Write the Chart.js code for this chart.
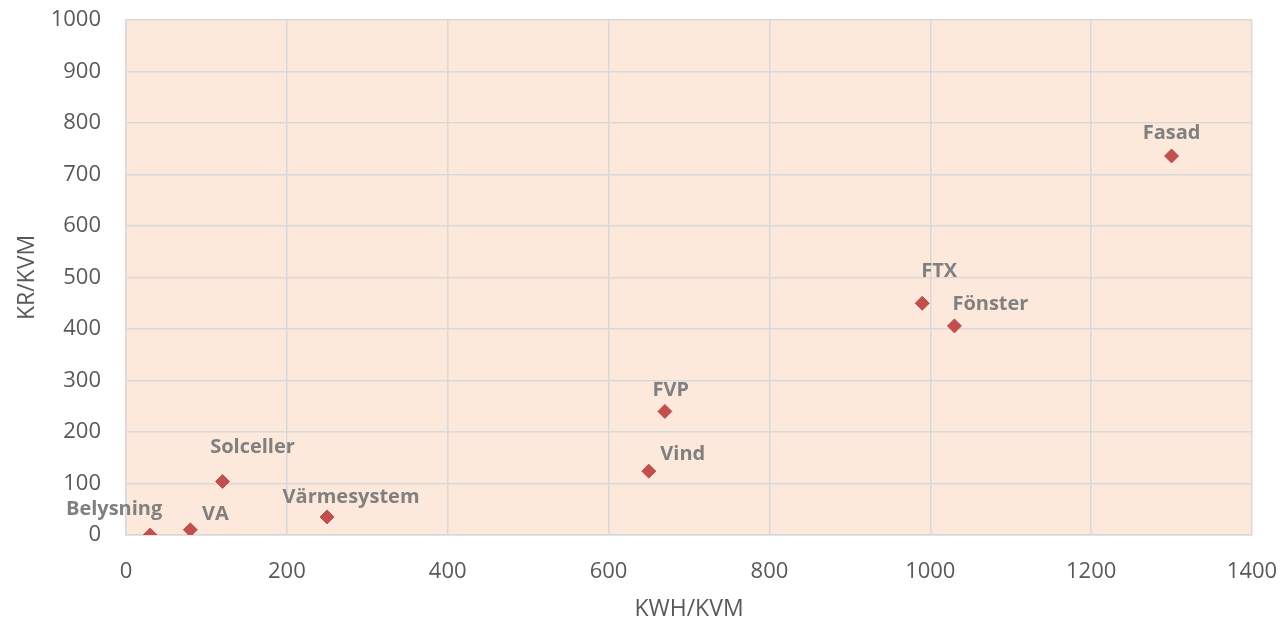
<!DOCTYPE html>
<html>
<head>
<meta charset="utf-8">
<script src="https://cdn.jsdelivr.net/npm/chart.js@4"></script>
<style>
  html, body { margin: 0; padding: 0; background: #ffffff; }
  #wrap { width: 1284px; height: 623px; }
</style>
</head>
<body>
<div id="wrap"><canvas id="scatter"></canvas></div>
<script>
// ── DATA ──────────────────────────────────────────────────
const measures = ['Belysning', 'VA', 'Solceller', 'Värmesystem', 'Vind', 'FVP', 'FTX', 'Fönster', 'Fasad'];
const kwhPerKvm = [30, 80, 120, 250, 650, 670, 990, 1030, 1300];
const krPerKvm  = [0, 10, 104, 35, 124, 240, 450, 406, 736];
const xTicks = [0, 200, 400, 600, 800, 1000, 1200, 1400];
const yTicks = [0, 100, 200, 300, 400, 500, 600, 700, 800, 900, 1000];

// label offsets from each marker (px)
const labelOffsets = [[-36, -26], [25, -16], [30, -34], [24, -20], [34, -17], [6, -21], [17, -32], [36, -22], [0, -23]];

const FONT = "'Open Sans', 'Liberation Sans', sans-serif";

// peach plot background
const plotBg = {
  id: 'plotBg',
  beforeDraw(chart) {
    const { ctx, chartArea: a } = chart;
    ctx.save();
    ctx.fillStyle = '#fde9dc';
    ctx.fillRect(a.left, a.top, a.right - a.left, a.bottom - a.top);
    ctx.restore();
  }
};

// name labels next to the markers
const pointLabels = {
  id: 'pointLabels',
  afterDatasetsDraw(chart) {
    const { ctx } = chart;
    const meta = chart.getDatasetMeta(0);
    ctx.save();
    ctx.font = "bold 20px " + FONT;
    ctx.fillStyle = '#808080';
    ctx.textAlign = 'center';
    ctx.textBaseline = 'middle';
    meta.data.forEach((pt, i) => {
      const [dx, dy] = labelOffsets[i];
      ctx.fillText(measures[i], pt.x + dx, pt.y + dy);
    });
    ctx.restore();
  }
};

new Chart(document.getElementById('scatter'), {
  type: 'scatter',
  data: {
    datasets: [{
      label: 'Åtgärder',
      data: kwhPerKvm.map((x, i) => ({ x, y: krPerKvm[i] })),
      pointStyle: 'rectRot',
      pointRadius: 7,
      pointHoverRadius: 7,
      backgroundColor: '#c0504d',
      borderColor: '#c0504d',
      borderWidth: 1,
    }],
  },
  options: {
    responsive: true,
    maintainAspectRatio: false,
    animation: false,
    layout: { padding: { top: 20, right: 32, left: 0, bottom: 0 } },
    plugins: {
      legend: { display: false },
      tooltip: { enabled: false },
    },
    scales: {
      x: {
        type: 'linear',
        min: 0,
        max: 1400,
        afterBuildTicks: s => { s.ticks = xTicks.map(v => ({ value: v })); },
        afterFit: s => { s.height = 623 - 535; s.paddingLeft = 0; s.paddingRight = 0; },
        grid: { color: '#d9d9d9', lineWidth: 1.5, drawTicks: false },
        border: { color: '#d9d9d9', width: 1.5 },
        ticks: { color: '#595959', padding: 24, callback: v => String(v), font: { family: FONT, size: 22 } },
        title: { display: true, text: 'KWH/KVM', color: '#595959', padding: { top: 2, bottom: 0 }, font: { family: FONT, size: 23 } },
      },
      y: {
        type: 'linear',
        min: 0,
        max: 1000,
        afterBuildTicks: s => { s.ticks = yTicks.map(v => ({ value: v })); },
        afterFit: s => { s.width = 126; s.paddingTop = 0; s.paddingBottom = 0; },
        grid: { color: '#d9d9d9', lineWidth: 1.5, drawTicks: false },
        border: { color: '#d9d9d9', width: 1.5 },
        ticks: { color: '#595959', padding: 25, callback: v => String(v), font: { family: FONT, size: 22 } },
        title: { display: true, text: 'KR/KVM', color: '#595959', padding: { top: 14, bottom: 0 }, font: { family: FONT, size: 23 } },
      },
    },
  },
  plugins: [plotBg, pointLabels],
});
</script>
</body>
</html>
